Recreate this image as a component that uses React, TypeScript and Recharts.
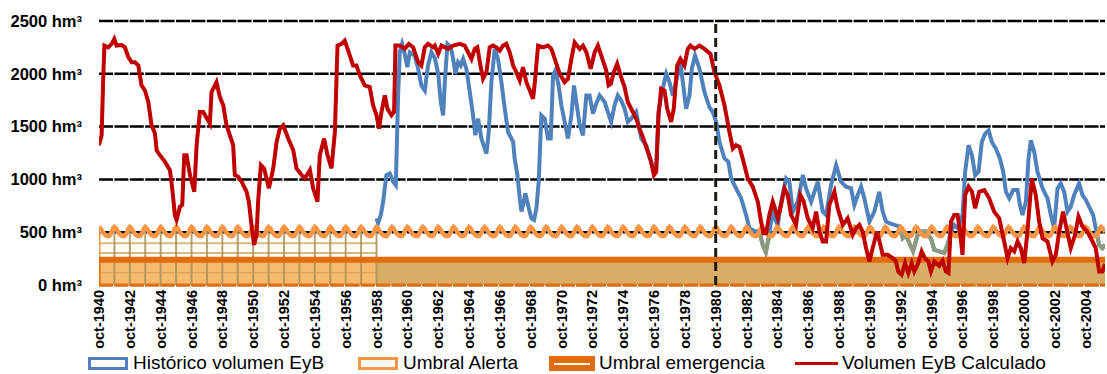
import { ComposedChart, Line, Area, XAxis, YAxis, CartesianGrid } from 'recharts';

/* ── Data (year as fraction: oct-1940 = 1940.75) ─────────────────────────── */

const HISTORICO: [number, number][] = [
  [1958.75, 630], [1958.85, 585], [1959.03, 663], [1959.18, 789], [1959.39, 1041], [1959.61, 1056],
  [1959.83, 978], [1960.0, 946], [1960.04, 1166], [1960.15, 1795], [1960.26, 2204], [1960.41, 2283],
  [1960.58, 2188], [1960.75, 2063], [1960.91, 2204], [1961.23, 2173], [1961.45, 2047], [1961.66, 1890],
  [1961.88, 1842], [1962.09, 2078], [1962.31, 2204], [1962.53, 2150], [1962.75, 2000], [1962.92, 1732],
  [1963.07, 1607], [1963.18, 1921], [1963.35, 2283], [1963.57, 2251], [1963.72, 2141], [1963.87, 2000],
  [1964.04, 2110], [1964.21, 2078], [1964.37, 2141], [1964.58, 2047], [1964.8, 1827], [1965.01, 1607],
  [1965.16, 1418], [1965.34, 1575], [1965.55, 1387], [1965.77, 1292], [1965.88, 1245], [1966.03, 1449],
  [1966.2, 1921], [1966.42, 2236], [1966.63, 2141], [1966.85, 1921], [1967.07, 1670], [1967.28, 1449],
  [1967.61, 1355], [1967.71, 1198], [1967.89, 1041], [1968.04, 821], [1968.15, 695], [1968.25, 758],
  [1968.4, 868], [1968.58, 758], [1968.79, 632], [1968.97, 616], [1969.12, 726], [1969.27, 978],
  [1969.44, 1607], [1969.66, 1575], [1969.87, 1387], [1970.05, 1387], [1970.2, 1984], [1970.35, 2031],
  [1970.56, 1890], [1970.74, 1701], [1971.0, 1512], [1971.17, 1387], [1971.39, 1607], [1971.56, 1890],
  [1971.71, 1732], [1971.93, 1512], [1972.14, 1418], [1972.36, 1795], [1972.57, 1795], [1972.79, 1622],
  [1973.0, 1717], [1973.22, 1795], [1973.55, 1732], [1973.76, 1638], [1973.97, 1544], [1974.19, 1701],
  [1974.4, 1795], [1974.62, 1748], [1974.84, 1670], [1975.05, 1544], [1975.27, 1575], [1975.59, 1638],
  [1975.92, 1387], [1976.24, 1324], [1976.56, 1166], [1976.74, 1072], [1976.89, 1104], [1977.04, 1638],
  [1977.26, 1827], [1977.54, 2000], [1977.75, 1921], [1977.97, 1795], [1978.18, 1921], [1978.46, 2110],
  [1978.62, 1921], [1978.83, 1670], [1979.05, 1795], [1979.2, 2047], [1979.41, 2173], [1979.7, 2047],
  [1980.02, 1827], [1980.34, 1685], [1980.56, 1638], [1980.78, 1544], [1980.99, 1355], [1981.32, 1198],
  [1981.57, 1166], [1981.75, 1009], [1982.07, 915], [1982.4, 821], [1982.72, 663], [1982.94, 538],
  [1983.26, 512], [1983.58, 506], [1983.8, 380], [1984.0, 310], [1984.23, 480], [1984.45, 726],
  [1984.56, 632], [1984.78, 569], [1984.99, 789], [1985.32, 1009], [1985.53, 978], [1985.75, 695],
  [1986.07, 789], [1986.4, 1041], [1986.61, 915], [1986.94, 789], [1987.37, 978], [1987.69, 695],
  [1987.91, 663], [1988.23, 946], [1988.56, 1135], [1988.88, 978], [1989.2, 931], [1989.53, 915],
  [1989.74, 758], [1989.96, 852], [1990.18, 931], [1990.39, 821], [1990.72, 600], [1991.04, 695],
  [1991.36, 883], [1991.58, 695], [1991.8, 600], [1992.01, 585], [1992.34, 569], [1992.66, 553],
  [1992.88, 443], [1993.09, 475], [1993.3, 400], [1993.55, 320], [1993.85, 475], [1994.06, 506],
  [1994.39, 506], [1994.71, 440], [1994.93, 333], [1995.25, 318], [1995.57, 302], [1995.79, 380],
  [1996.01, 506], [1996.22, 569], [1996.44, 538], [1996.76, 663], [1996.93, 1072], [1997.15, 1324],
  [1997.37, 1229], [1997.58, 1041], [1997.8, 1072], [1998.01, 1355], [1998.23, 1434], [1998.45, 1465],
  [1998.66, 1355], [1998.92, 1292], [1999.18, 1198], [1999.4, 1072], [1999.57, 883], [1999.79, 821],
  [2000.04, 899], [2000.33, 899], [2000.48, 758], [2000.65, 663], [2000.87, 789], [2001.04, 1198],
  [2001.19, 1371], [2001.41, 1261], [2001.62, 1072], [2001.95, 915], [2002.27, 821], [2002.49, 663],
  [2002.7, 538], [2002.92, 915], [2003.13, 962], [2003.35, 883], [2003.57, 695], [2003.78, 742],
  [2004.0, 852], [2004.32, 962], [2004.54, 852], [2004.76, 805], [2004.97, 742], [2005.23, 663],
  [2005.44, 506], [2005.62, 380], [2005.83, 349], [2006.0, 380],
];

const CALCULADO: [number, number][] = [
  [1940.75, 1324], [1940.92, 1418], [1941.03, 1984], [1941.1, 2267], [1941.35, 2251], [1941.57, 2283],
  [1941.74, 2330], [1941.89, 2267], [1942.22, 2273], [1942.43, 2251], [1942.65, 2157], [1942.87, 2110],
  [1943.08, 2110], [1943.3, 2078], [1943.51, 1890], [1943.73, 1842], [1943.95, 1732], [1944.16, 1512],
  [1944.38, 1434], [1944.49, 1276], [1944.7, 1229], [1945.03, 1166], [1945.35, 1088], [1945.5, 915],
  [1945.67, 663], [1945.78, 616], [1946.0, 742], [1946.15, 758], [1946.28, 1229], [1946.43, 1229],
  [1946.65, 1041], [1946.93, 883], [1947.08, 1324], [1947.29, 1638], [1947.51, 1638], [1947.94, 1528],
  [1948.05, 1827], [1948.37, 1921], [1948.59, 1780], [1948.81, 1701], [1949.02, 1512], [1949.24, 1418],
  [1949.45, 1324], [1949.56, 1041], [1949.78, 1025], [1950.0, 978], [1950.32, 883], [1950.47, 789],
  [1950.64, 569], [1950.81, 380], [1950.97, 475], [1951.07, 789], [1951.25, 1135], [1951.46, 1104],
  [1951.62, 1009], [1951.77, 915], [1952.05, 1104], [1952.27, 1355], [1952.48, 1481], [1952.7, 1512],
  [1953.02, 1387], [1953.35, 1276], [1953.56, 1104], [1953.89, 1041], [1954.1, 1009], [1954.43, 1088],
  [1954.64, 915], [1954.92, 789], [1955.07, 1229], [1955.35, 1387], [1955.57, 1229], [1955.83, 1104],
  [1956.05, 1450], [1956.22, 2267], [1956.48, 2283], [1956.69, 2314], [1957.02, 2173], [1957.23, 2078],
  [1957.45, 2078], [1957.67, 1984], [1957.99, 1890], [1958.31, 1874], [1958.53, 1701], [1958.75, 1607],
  [1958.92, 1481], [1959.07, 1638], [1959.29, 1795], [1959.46, 1670], [1959.72, 1607], [1959.89, 1640],
  [1959.98, 2267], [1960.26, 2267], [1960.58, 2236], [1960.84, 2283], [1961.12, 2251], [1961.45, 2110],
  [1961.66, 2078], [1961.88, 2251], [1962.09, 2283], [1962.42, 2251], [1962.53, 2267], [1962.75, 2188],
  [1962.96, 2267], [1963.39, 2236], [1963.72, 2267], [1964.15, 2283], [1964.47, 2267], [1964.69, 2204],
  [1964.91, 2141], [1965.12, 2236], [1965.29, 2251], [1965.45, 2110], [1965.66, 1953], [1965.88, 2015],
  [1966.09, 2251], [1966.31, 2267], [1966.53, 2251], [1966.74, 2220], [1966.96, 2267], [1967.17, 2283],
  [1967.39, 2204], [1967.61, 2078], [1967.82, 2015], [1968.04, 1937], [1968.25, 2063], [1968.47, 1921],
  [1968.69, 1842], [1968.9, 1764], [1969.01, 1905], [1969.23, 2267], [1969.55, 2251], [1969.87, 2267],
  [1970.09, 2236], [1970.31, 2141], [1970.63, 2000], [1970.95, 1921], [1971.17, 1953], [1971.39, 2141],
  [1971.6, 2298], [1971.93, 2236], [1972.14, 2267], [1972.36, 2204], [1972.64, 2047], [1972.9, 2204],
  [1973.11, 2267], [1973.33, 2173], [1973.65, 2031], [1973.8, 1890], [1973.95, 1905], [1974.14, 2015],
  [1974.36, 2094], [1974.58, 1984], [1974.84, 1874], [1975.05, 1732], [1975.38, 1638], [1975.59, 1575],
  [1975.81, 1481], [1976.02, 1402], [1976.35, 1261], [1976.56, 1166], [1976.74, 1041], [1976.89, 1072],
  [1977.04, 1607], [1977.21, 1858], [1977.43, 1842], [1977.6, 1670], [1977.86, 1544], [1978.03, 1670],
  [1978.25, 2078], [1978.46, 2141], [1978.72, 2078], [1978.94, 2236], [1979.11, 2267], [1979.37, 2236],
  [1979.7, 2267], [1980.02, 2236], [1980.41, 2188], [1980.67, 2015], [1980.99, 1890], [1981.32, 1701],
  [1981.64, 1449], [1981.86, 1292], [1982.07, 1324], [1982.29, 1308], [1982.5, 1198], [1982.83, 1009],
  [1983.15, 931], [1983.48, 789], [1983.69, 600], [1983.86, 490], [1984.02, 490], [1984.23, 663],
  [1984.45, 789], [1984.66, 695], [1984.78, 632], [1984.99, 758], [1985.21, 915], [1985.42, 852],
  [1985.64, 663], [1985.96, 569], [1986.24, 852], [1986.46, 789], [1986.72, 632], [1987.04, 538],
  [1987.26, 695], [1987.48, 506], [1987.69, 412], [1987.91, 412], [1988.12, 758], [1988.45, 883],
  [1988.66, 726], [1988.99, 569], [1989.31, 632], [1989.64, 475], [1989.85, 538], [1990.07, 569],
  [1990.28, 506], [1990.5, 349], [1990.72, 223], [1990.93, 349], [1991.21, 506], [1991.43, 380],
  [1991.58, 286], [1991.9, 286], [1992.23, 255], [1992.44, 223], [1992.59, 129], [1992.81, 97],
  [1993.03, 207], [1993.24, 113], [1993.46, 207], [1993.63, 129], [1993.89, 207], [1994.11, 318],
  [1994.32, 255], [1994.54, 223], [1994.71, 129], [1994.93, 223], [1995.25, 180], [1995.47, 230],
  [1995.68, 129], [1995.85, 115], [1996.01, 600], [1996.22, 663], [1996.44, 663], [1996.59, 506],
  [1996.76, 286], [1996.93, 852], [1997.15, 931], [1997.37, 883], [1997.58, 726], [1997.84, 883],
  [1998.17, 899], [1998.49, 821], [1998.81, 695], [1999.14, 632], [1999.46, 412], [1999.68, 255],
  [1999.89, 349], [2000.11, 318], [2000.33, 412], [2000.54, 349], [2000.76, 207], [2000.97, 506],
  [2001.25, 1009], [2001.51, 852], [2001.73, 600], [2001.95, 443], [2002.27, 412], [2002.59, 223],
  [2002.81, 286], [2003.03, 506], [2003.28, 695], [2003.5, 538], [2003.78, 349], [2004.06, 475],
  [2004.28, 648], [2004.54, 553], [2004.86, 506], [2005.19, 412], [2005.4, 349], [2005.62, 129],
  [2005.83, 129], [2006.0, 200],
];

// Umbral de alerta por mes hidrológico (oct … sep), hm³
const ALERTA_MENSUAL = [550, 540, 520, 500, 485, 472, 465, 462, 465, 480, 505, 535];
const EMERGENCIA = 240;

const INICIO = 1940.75;
const FIN = 2006.0;
const INICIO_HISTORICO = 1958.75;
const CORTE = 1980.75;

const TICK_YEARS = [
  1940, 1942, 1944, 1946, 1948, 1950, 1952, 1954, 1956, 1958, 1960, 1962, 1964, 1966, 1968, 1970, 1972,
  1974, 1976, 1978, 1980, 1982, 1984, 1986, 1988, 1990, 1992, 1994, 1996, 1998, 2000, 2002, 2004,
];
const Y_TICKS = [0, 500, 1000, 1500, 2000, 2500];

/* ── Palette ─────────────────────────────────────────────────────────────── */

const BLUE = '#4F81BD';
const RED = '#C00000';
const ALERT = '#F79646';
const EMERG = '#E46C0A';
const TAN = '#D8AE66';
const LIGHT_ORANGE = '#F5BC70';
const OLIVE = '#A8925A';
const LATTICE = '#D3BD7C';
const GREYGREEN = '#8D9B7C';
const FONT = "'Liberation Sans', Arial, sans-serif";

/* ── Series built from the lists ─────────────────────────────────────────── */

type Pt = { t: number; v: number | null };
const toPts = (rows: [number, number][]): Pt[] => rows.map(([t, v]) => ({ t, v }));

const alertaAt = (t: number) => ALERTA_MENSUAL[((Math.round((t - INICIO) * 12) % 12) + 12) % 12];

const alertaData: Pt[] = [];
for (let i = 0; INICIO + i / 12 <= FIN + 1e-9; i++) {
  alertaData.push({ t: INICIO + i / 12, v: ALERTA_MENSUAL[i % 12] });
}

const historicoData = toPts(HISTORICO);
const calculadoData = toPts(CALCULADO);

// tramos del histórico por debajo del umbral de alerta
const bajo = HISTORICO.map(([t, v]) => v < alertaAt(t));
const historicoBajoData: Pt[] = HISTORICO.map(([t, v], i) => ({
  t,
  v: bajo[i] || bajo[i - 1] || bajo[i + 1] ? v : null,
}));

const emergAntes: Pt[] = [{ t: INICIO, v: EMERGENCIA }, { t: INICIO_HISTORICO, v: EMERGENCIA }];
const emergDespues: Pt[] = [{ t: INICIO_HISTORICO, v: EMERGENCIA }, { t: FIN, v: EMERGENCIA }];
const emergLinea: Pt[] = [{ t: INICIO, v: EMERGENCIA }, { t: FIN, v: EMERGENCIA }];

// retícula del periodo sin histórico
const verticales: Pt[] = [];
for (let y = Math.ceil(INICIO); y <= INICIO_HISTORICO; y++) {
  verticales.push({ t: y + 0.75, v: 0 }, { t: y + 0.75, v: ALERTA_MENSUAL[0] }, { t: y + 0.75, v: null });
}
const horizontales: Pt[] = [302, 396].flatMap(v => [
  { t: INICIO, v }, { t: INICIO_HISTORICO, v }, { t: INICIO_HISTORICO, v: null },
]);
const horizontalEmerg: Pt[] = [{ t: INICIO, v: 115 }, { t: INICIO_HISTORICO, v: 115 }];

const bordeIzq: Pt[] = [{ t: INICIO, v: 0 }, { t: INICIO, v: ALERTA_MENSUAL[0] }];
const bordeIzqEmerg: Pt[] = [{ t: INICIO, v: 0 }, { t: INICIO, v: EMERGENCIA }];
const base: Pt[] = [{ t: INICIO, v: 0 }, { t: FIN, v: 0 }];
const corte: Pt[] = [{ t: CORTE, v: 0 }, { t: CORTE, v: 2500 }];

/* ── Ticks ───────────────────────────────────────────────────────────────── */

function XTick({ x, y, payload }: { x?: number; y?: number; payload?: { value: number } }) {
  return (
    <text
      x={x}
      y={y}
      transform={`rotate(-90 ${x} ${y})`}
      textAnchor="end"
      dominantBaseline="central"
      fontSize={14.5}
      fontWeight="bold"
      fontFamily={FONT}
      fill="#000"
    >
      {`oct-${Math.floor(payload?.value ?? 0)}`}
    </text>
  );
}

/* ── Legend ──────────────────────────────────────────────────────────────── */

const legendText: React.CSSProperties = {
  position: 'absolute', top: 352, fontSize: 19, fontFamily: FONT, color: '#000', lineHeight: '22px',
};

function Legend() {
  return (
    <>
      <div style={{ position: 'absolute', left: 88, top: 357, width: 34, height: 7, border: `3px solid ${BLUE}`, background: '#fff' }} />
      <span style={{ ...legendText, left: 133 }}>Histórico volumen EyB</span>

      <div style={{ position: 'absolute', left: 358, top: 357, width: 34, height: 7, border: `3px solid ${ALERT}`, background: '#fff' }} />
      <span style={{ ...legendText, left: 403 }}>Umbral Alerta</span>

      <div style={{ position: 'absolute', left: 549, top: 356, width: 46, height: 15, background: EMERG }}>
        <div style={{ position: 'absolute', left: 5, right: 5, top: 6.5, height: 2, background: '#fff' }} />
      </div>
      <span style={{ ...legendText, left: 599 }}>Umbral emergencia</span>

      <div style={{ position: 'absolute', left: 795, top: 362, width: 43, height: 3, background: RED }} />
      <span style={{ ...legendText, left: 842 }}>Volumen EyB Calculado</span>
    </>
  );
}

/* ── Chart ───────────────────────────────────────────────────────────────── */

export default function App() {
  return (
    <div style={{ position: 'absolute', left: 0, top: 0, width: 1107, height: 374, background: '#fff' }}>
      <ComposedChart width={1107} height={374} margin={{ top: 21, right: 2, left: 0, bottom: 24 }}>
        <CartesianGrid vertical={false} stroke="#000" strokeWidth={2.5} strokeDasharray="14 1.4" />
        <XAxis
          type="number"
          dataKey="t"
          domain={[INICIO, FIN]}
          ticks={TICK_YEARS.map(y => y + 0.75)}
          interval={0}
          allowDataOverflow
          axisLine={false}
          tickLine={false}
          tickSize={0}
          tickMargin={5}
          height={65}
          tick={<XTick />}
        />
        <YAxis
          type="number"
          domain={[0, 2500]}
          ticks={Y_TICKS}
          interval={0}
          width={99}
          axisLine={false}
          tickLine={false}
          tickSize={0}
          tickMargin={17}
          tickFormatter={v => `${v} hm³`}
          tick={{ fill: '#000', fontSize: 16.5, fontWeight: 'bold', fontFamily: FONT }}
        />

        <Area data={emergDespues} dataKey="v" type="linear" fill={TAN} fillOpacity={1} stroke="none" isAnimationActive={false} />
        <Area data={emergAntes} dataKey="v" type="linear" fill={LIGHT_ORANGE} fillOpacity={1} stroke="none" isAnimationActive={false} />

        <Line data={horizontales} dataKey="v" type="linear" stroke={LATTICE} strokeWidth={2} dot={false} isAnimationActive={false} />
        <Line data={horizontalEmerg} dataKey="v" type="linear" stroke="#E0A458" strokeWidth={1.5} dot={false} isAnimationActive={false} />
        <Line data={verticales} dataKey="v" type="linear" stroke={OLIVE} strokeOpacity={0.85} strokeWidth={2} dot={false} isAnimationActive={false} />

        <Line data={historicoData} dataKey="v" type="linear" stroke={BLUE} strokeWidth={4} dot={false} isAnimationActive={false} />
        <Line data={historicoBajoData} dataKey="v" type="linear" stroke={GREYGREEN} strokeWidth={4} dot={false} isAnimationActive={false} />

        <Line data={alertaData} dataKey="v" type="linear" stroke={ALERT} strokeWidth={4.5} dot={false} isAnimationActive={false} />
        <Line data={bordeIzq} dataKey="v" type="linear" stroke={ALERT} strokeWidth={3} dot={false} isAnimationActive={false} />
        <Line data={emergLinea} dataKey="v" type="linear" stroke={EMERG} strokeWidth={6} dot={false} isAnimationActive={false} />
        <Line data={bordeIzqEmerg} dataKey="v" type="linear" stroke={EMERG} strokeWidth={3} dot={false} isAnimationActive={false} />
        <Line data={base} dataKey="v" type="linear" stroke={EMERG} strokeWidth={3} strokeDasharray="14 1.4" dot={false} isAnimationActive={false} />

        <Line data={calculadoData} dataKey="v" type="linear" stroke={RED} strokeWidth={4} dot={false} isAnimationActive={false} />
        <Line data={corte} dataKey="v" type="linear" stroke="#1E1A14" strokeWidth={3} strokeDasharray="9 5" dot={false} isAnimationActive={false} />
      </ComposedChart>
      <Legend />
    </div>
  );
}
